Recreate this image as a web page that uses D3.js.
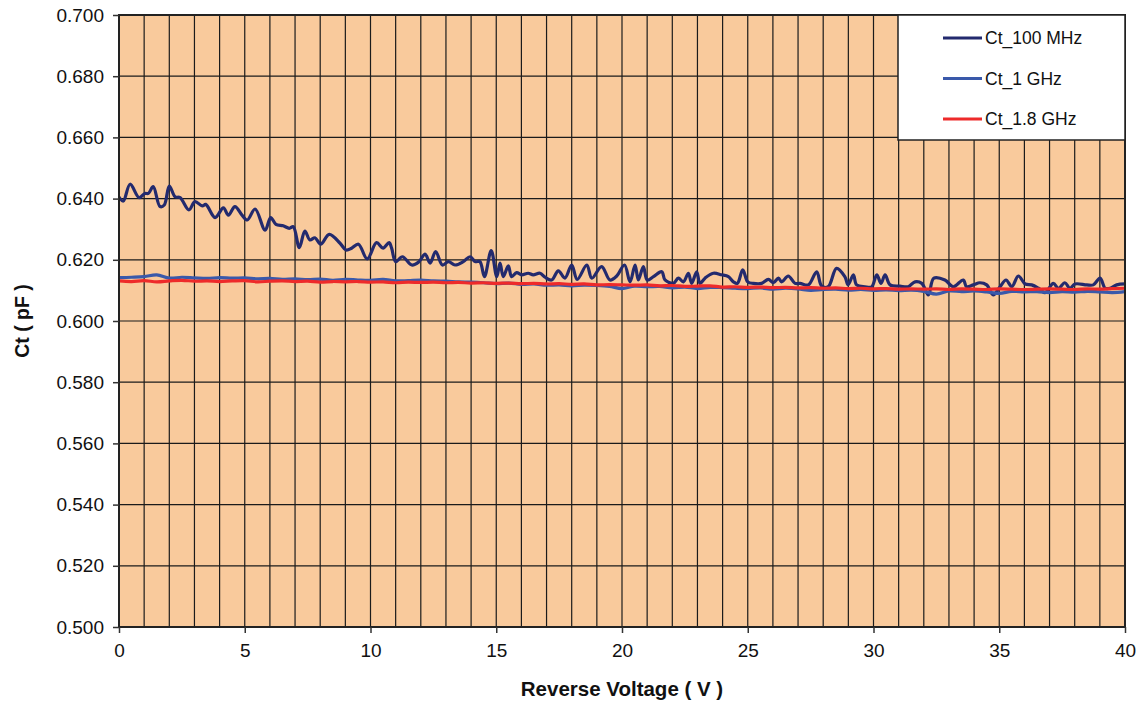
<!DOCTYPE html>
<html>
<head>
<meta charset="utf-8">
<script src="https://cdn.jsdelivr.net/npm/d3@7"></script>
<style>
  html, body { margin: 0; padding: 0; background: #ffffff; }
  svg { display: block; font-family: "Liberation Sans", Arial, sans-serif; }
</style>
</head>
<body>
<svg id="chart" width="1140" height="702"></svg>
<script>
// Capacitance vs reverse voltage, three test frequencies

// 100 MHz sweep (irregular voltage steps)
const voltage100 = [0, 0.17, 0.44, 0.8, 1.03, 1.17, 1.36, 1.63, 1.8, 2.0, 2.23, 2.43, 2.78, 3.02, 3.31, 3.45, 3.82, 4.15, 4.35, 4.61, 4.9,
  5.1, 5.41, 5.81, 6.03, 6.24, 6.53, 6.77, 6.93, 7.17, 7.39, 7.59, 7.79, 8.02, 8.36, 8.79, 9.03, 9.25, 9.52, 9.87,
  10.24, 10.5, 10.74, 10.84, 11.0, 11.27, 11.64, 11.93, 12.17, 12.37, 12.59, 12.86, 13.1, 13.36, 13.69, 13.96, 14.16, 14.35, 14.53, 14.8,
  15.02, 15.15, 15.28, 15.48, 15.61, 15.81, 16.01, 16.27, 16.47, 16.74, 16.94, 17.2, 17.47, 17.73, 18.0, 18.22, 18.6, 18.8, 19.19, 19.52, 19.79,
  20.1, 20.32, 20.52, 20.65, 20.85, 21.0, 21.25, 21.58, 21.71, 22.04, 22.24, 22.44, 22.64, 22.77, 22.97, 23.1, 23.3, 23.63, 23.96, 24.23, 24.43, 24.59, 24.8,
  25.0, 25.22, 25.55, 25.82, 26.02, 26.22, 26.35, 26.61, 26.88, 27.08, 27.41, 27.74, 27.94, 28.2, 28.53, 28.86, 28.99, 29.2, 29.33, 29.66, 29.93,
  30.13, 30.3, 30.46, 30.66, 31.05, 31.38, 31.65, 31.92, 32.18, 32.4, 32.84, 33.17, 33.57, 33.7, 33.97, 34.23, 34.5, 34.76,
  35.03, 35.27, 35.5, 35.76, 36.03, 36.29, 36.56, 36.82, 37.15, 37.35, 37.61, 37.81, 38.01, 38.48, 38.74, 39.01, 39.21, 39.41, 39.67, 40.0];
const ct100MHz = [0.6405, 0.6392, 0.6447, 0.6403, 0.6417, 0.6417, 0.6439, 0.6374, 0.6379, 0.6441, 0.6406, 0.6403, 0.6363, 0.6390, 0.6376, 0.6381, 0.6338, 0.6370, 0.6346, 0.6374, 0.6345,
  0.6330, 0.6366, 0.6297, 0.6338, 0.6316, 0.6311, 0.6303, 0.6308, 0.6240, 0.6294, 0.6265, 0.6272, 0.6251, 0.6283, 0.6254, 0.6232, 0.6238, 0.6251, 0.6203,
  0.6256, 0.6238, 0.6256, 0.6238, 0.6194, 0.6210, 0.6183, 0.6194, 0.6219, 0.6189, 0.6227, 0.6183, 0.6194, 0.6183, 0.6194, 0.6210, 0.6194, 0.6194, 0.6145, 0.6230,
  0.6145, 0.6189, 0.6145, 0.6180, 0.6145, 0.6158, 0.6151, 0.6156, 0.6151, 0.6156, 0.6143, 0.6134, 0.6164, 0.6140, 0.6183, 0.6136, 0.6183, 0.6140, 0.6178, 0.6134, 0.6147,
  0.6183, 0.6128, 0.6183, 0.6134, 0.6178, 0.6134, 0.6145, 0.6161, 0.6134, 0.6123, 0.6140, 0.6128, 0.6156, 0.6123, 0.6161, 0.6123, 0.6140, 0.6156, 0.6151, 0.6145, 0.6128, 0.6123, 0.6167,
  0.6128, 0.6123, 0.6123, 0.6136, 0.6125, 0.6140, 0.6128, 0.6147, 0.6123, 0.6123, 0.6118, 0.6161, 0.6114, 0.6112, 0.6172, 0.6145, 0.6118, 0.6151, 0.6118, 0.6112, 0.6112,
  0.6151, 0.6123, 0.6151, 0.6118, 0.6114, 0.6112, 0.6128, 0.6123, 0.6085, 0.6140, 0.6134, 0.6112, 0.6134, 0.6112, 0.6118, 0.6125, 0.6118, 0.6085,
  0.6112, 0.6134, 0.6112, 0.6147, 0.6121, 0.6118, 0.6107, 0.6093, 0.6123, 0.6107, 0.6125, 0.6107, 0.6121, 0.6118, 0.6118, 0.6140, 0.6107, 0.6107, 0.6118, 0.6121];

// 1 GHz and 1.8 GHz sweeps share a 0.5 V step
const voltageStep = [0, 0.5, 1, 1.5, 2, 2.5, 3, 3.5, 4, 4.5, 5, 5.5, 6, 6.5, 7, 7.5, 8, 8.5, 9, 9.5,
  10, 10.5, 11, 11.5, 12, 12.5, 13, 13.5, 14, 14.5, 15, 15.5, 16, 16.5, 17, 17.5, 18, 18.5, 19, 19.5,
  20, 20.5, 21, 21.5, 22, 22.5, 23, 23.5, 24, 24.5, 25, 25.5, 26, 26.5, 27, 27.5, 28, 28.5, 29, 29.5,
  30, 30.5, 31, 31.5, 32, 32.5, 33, 33.5, 34, 34.5, 35, 35.5, 36, 36.5, 37, 37.5, 38, 38.5, 39, 39.5, 40];
const ct1GHz = [0.6142, 0.6143, 0.6145, 0.6151, 0.6140, 0.6143, 0.6141, 0.6139, 0.6142, 0.6140, 0.6141, 0.6138, 0.6139, 0.6136, 0.6138, 0.6135, 0.6137, 0.6133, 0.6136, 0.6134,
  0.6133, 0.6136, 0.6131, 0.6132, 0.6134, 0.6131, 0.6130, 0.6128, 0.6127, 0.6125, 0.6122, 0.6124, 0.6120, 0.6121, 0.6117, 0.6118, 0.6115, 0.6117, 0.6116, 0.6113,
  0.6106, 0.6114, 0.6112, 0.6113, 0.6108, 0.6111, 0.6106, 0.6110, 0.6109, 0.6107, 0.6106, 0.6108, 0.6104, 0.6107, 0.6105, 0.6100, 0.6103, 0.6104, 0.6101, 0.6103,
  0.6100, 0.6102, 0.6099, 0.6101, 0.6097, 0.6088, 0.6098, 0.6096, 0.6098, 0.6095, 0.6090, 0.6097, 0.6095, 0.6096, 0.6093, 0.6096, 0.6094, 0.6097, 0.6095, 0.6093, 0.6096];
const ct18GHz = [0.6131, 0.6129, 0.6132, 0.6128, 0.6131, 0.6133, 0.6130, 0.6131, 0.6129, 0.6131, 0.6132, 0.6128, 0.6130, 0.6131, 0.6129, 0.6130, 0.6127, 0.6129, 0.6128, 0.6129,
  0.6127, 0.6128, 0.6125, 0.6127, 0.6126, 0.6127, 0.6125, 0.6126, 0.6124, 0.6125, 0.6123, 0.6124, 0.6122, 0.6123, 0.6121, 0.6122, 0.6120, 0.6121, 0.6118, 0.6119,
  0.6118, 0.6117, 0.6118, 0.6115, 0.6116, 0.6113, 0.6114, 0.6115, 0.6111, 0.6112, 0.6110, 0.6111, 0.6109, 0.6110, 0.6108, 0.6109, 0.6107, 0.6108, 0.6106, 0.6107,
  0.6105, 0.6106, 0.6104, 0.6105, 0.6104, 0.6105, 0.6103, 0.6105, 0.6104, 0.6103, 0.6105, 0.6104, 0.6103, 0.6104, 0.6105, 0.6104, 0.6103, 0.6105, 0.6104, 0.6106, 0.6107];

const seriesNames = ["Ct_100 MHz", "Ct_1 GHz", "Ct_1.8 GHz"];
const seriesColors = ["#232a6e", "#3a59aa", "#ee2a2a"];

const xTicks = [0, 5, 10, 15, 20, 25, 30, 35, 40];
const yTicks = [0.50, 0.52, 0.54, 0.56, 0.58, 0.60, 0.62, 0.64, 0.66, 0.68, 0.70];
const xGrid = d3.range(0, 41, 1);

const xTitle = "Reverse Voltage ( V )";
const yTitle = "Ct ( pF )";

// ---- layout ----
const plot = { left: 119, right: 1125, top: 15, bottom: 627 };
const svg = d3.select("#chart");

const x = d3.scaleLinear().domain([0, 40]).range([plot.left, plot.right]);
const y = d3.scaleLinear().domain([0.5, 0.7]).range([plot.bottom, plot.top]);

// plot background
svg.append("rect")
  .attr("x", plot.left).attr("y", plot.top)
  .attr("width", plot.right - plot.left).attr("height", plot.bottom - plot.top)
  .attr("fill", "#f9ca9c");

// grid
const grid = svg.append("g").attr("stroke", "#1b1b1b").attr("stroke-width", 1.2);
grid.selectAll("line.v").data(xGrid).join("line")
  .attr("class", "v")
  .attr("x1", d => x(d)).attr("x2", d => x(d))
  .attr("y1", plot.top).attr("y2", plot.bottom);
grid.selectAll("line.h").data(yTicks).join("line")
  .attr("class", "h")
  .attr("x1", plot.left).attr("x2", plot.right)
  .attr("y1", d => y(d)).attr("y2", d => y(d));

// series
const line = d3.line()
  .x(d => x(d[0])).y(d => y(d[1]))
  .curve(d3.curveCatmullRom.alpha(0.5));

const seriesData = [
  d3.zip(voltage100, ct100MHz),
  d3.zip(voltageStep, ct1GHz),
  d3.zip(voltageStep, ct18GHz)
];

svg.append("clipPath").attr("id", "plotClip")
  .append("rect")
  .attr("x", plot.left).attr("y", plot.top)
  .attr("width", plot.right - plot.left).attr("height", plot.bottom - plot.top);

svg.append("g").attr("clip-path", "url(#plotClip)")
  .selectAll("path").data(seriesData).join("path")
  .attr("d", line)
  .attr("fill", "none")
  .attr("stroke", (d, i) => seriesColors[i])
  .attr("stroke-width", 3.2)
  .attr("stroke-linejoin", "round")
  .attr("stroke-linecap", "round");

// frame
svg.append("rect")
  .attr("x", plot.left).attr("y", plot.top)
  .attr("width", plot.right - plot.left).attr("height", plot.bottom - plot.top)
  .attr("fill", "none").attr("stroke", "#222222").attr("stroke-width", 2);

// axes
const xAxis = svg.append("g")
  .attr("transform", `translate(0,${plot.bottom})`)
  .call(d3.axisBottom(x).tickValues(xTicks).tickFormat(d3.format("d")).tickSize(6).tickPadding(11));
const yAxis = svg.append("g")
  .attr("transform", `translate(${plot.left},0)`)
  .call(d3.axisLeft(y).tickValues(yTicks).tickFormat(d3.format(".3f")).tickSize(6).tickPadding(9));

[xAxis, yAxis].forEach(g => {
  g.select(".domain").remove();
  g.selectAll(".tick line").attr("stroke", "#333333").attr("stroke-width", 1.5);
  g.selectAll(".tick text")
    .attr("fill", "#111111")
    .attr("font-family", "'Liberation Sans', Arial, sans-serif")
    .attr("font-size", 19);
});

// axis titles
svg.append("text")
  .attr("x", (plot.left + plot.right) / 2).attr("y", 696)
  .attr("text-anchor", "middle")
  .attr("font-weight", "bold").attr("font-size", 20.5)
  .attr("fill", "#111111")
  .text(xTitle);

svg.append("text")
  .attr("transform", `translate(29,${(plot.top + plot.bottom) / 2}) rotate(-90)`)
  .attr("text-anchor", "middle")
  .attr("font-weight", "bold").attr("font-size", 19.5)
  .attr("fill", "#111111")
  .text(yTitle);

// legend
const legend = svg.append("g");
legend.append("rect")
  .attr("x", 898).attr("y", plot.top)
  .attr("width", plot.right - 898).attr("height", 125)
  .attr("fill", "#ffffff").attr("stroke", "#222222").attr("stroke-width", 1.5);

const rows = legend.selectAll("g.row").data(seriesNames).join("g")
  .attr("class", "row")
  .attr("transform", (d, i) => `translate(943,${38 + i * 40.5})`);
rows.append("line")
  .attr("x1", 0).attr("x2", 39)
  .attr("stroke", (d, i) => seriesColors[i]).attr("stroke-width", 3);
rows.append("text")
  .attr("x", 42).attr("y", 0).attr("dy", "0.36em")
  .attr("font-size", 17.5)
  .attr("fill", "#111111")
  .text(d => d);
</script>
</body>
</html>
